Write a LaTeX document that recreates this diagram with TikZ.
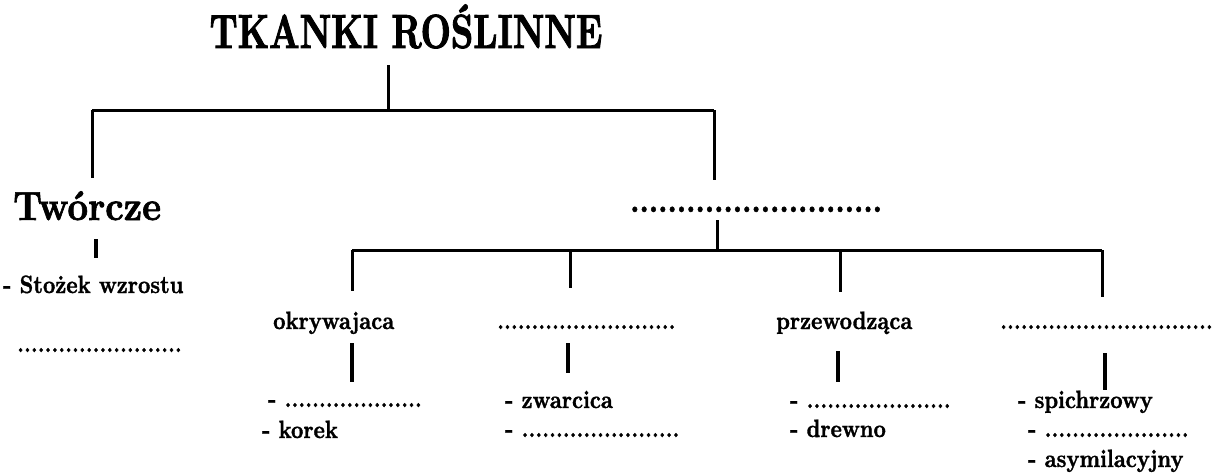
\documentclass[tikz,border=0pt]{standalone}
\usepackage{fontspec}
% heavy serif faces, narrowed to Times-like widths
\newfontfamily\bodyfont{lmroman10-bold.otf}[FakeStretch=0.86,FakeBold=1.3]
\newfontfamily\titlefont{lmroman10-bold.otf}[FakeStretch=0.73,FakeBold=1.8]
\newfontfamily\headfont{lmroman10-bold.otf}[FakeStretch=0.88,FakeBold=1.5]
\begin{document}
\begin{tikzpicture}[x=1pt,y=-1pt,
  txt/.style={anchor=base west,inner sep=0pt,font=\bodyfont\fontsize{25}{25}\selectfont},
  head/.style={anchor=base west,inner sep=0pt,font=\headfont\fontsize{41}{41}\selectfont},
  branch/.style={line width=3pt},
  stub/.style={line width=3.5pt}]
\newcommand{\fillin}[1]{\foreach \i in {1,...,#1}{.}}
\useasboundingbox[fill=white] (0,0) rectangle (1221,475);

% title
\node[anchor=base,inner sep=0pt,font=\titlefont\fontsize{48}{48}\selectfont]
  (title) at (406,48) {TKANKI ROŚLINNE};

% first level
\node[head] (tworcze) at (13,220) {Twórcze};
\node[anchor=base west,inner sep=0pt,font=\bodyfont\fontsize{34}{34}\selectfont]
  (other) at (630,212) {\fillin{27}};

\coordinate (j0) at (388,110);
\coordinate (jL) at (92,110);
\coordinate (jR) at (714,110);
\draw[branch] (388,65) -- (j0);
\draw[branch] (jL) -- (jR);
\draw[branch] (jL) -- (92,178);
\draw[branch] (jR) -- (714,180);

% Twórcze branch
\draw[stub] (96,239) -- (96,258);
\node[txt] (stozek) at (3,293) {- Stożek wzrostu};
\node[txt] (tw2) at (17,352) {\fillin{24}};

% second level under the right branch
\coordinate (k0) at (717,250);
\coordinate (k1) at (352,250);
\coordinate (k2) at (570,250);
\coordinate (k3) at (840,250);
\coordinate (k4) at (1102,250);
\draw[branch] (717,220) -- (k0);
\draw[branch] (k1) -- (k4);
\draw[branch] (k1) -- (352,291);
\draw[branch] (k2) -- (570,288);
\draw[branch] (k3) -- (840,292);
\draw[branch] (k4) -- (1102,297);

\node[txt] (okryw) at (273,329) {okrywajaca};
\node[txt] (wzm) at (497,329) {\fillin{26}};
\node[txt] (przew) at (776,329) {przewodząca};
\node[txt] (mies) at (1000,329) {\fillin{31}};

\draw[stub] (352,343) -- (352,382);
\draw[stub] (568,343) -- (568,373);
\draw[stub] (838,351) -- (838,382);
\draw[stub] (1105,353) -- (1105,390);

% leaf items
\node[txt] (o1) at (268,407) {- \fillin{20}};
\node[txt] (o2) at (262,438) {- korek};
\node[txt] (w1) at (505,408) {- zwarcica};
\node[txt] (w2) at (505,437) {- \fillin{23}};
\node[txt] (p1) at (790,408) {- \fillin{21}};
\node[txt] (p2) at (790,437) {- drewno};
\node[txt] (m1) at (1018,408) {- spichrzowy};
\node[txt] (m2) at (1028,437) {- \fillin{21}};
\node[txt] (m3) at (1028,467) {- asymilacyjny};
\end{tikzpicture}
\end{document}
